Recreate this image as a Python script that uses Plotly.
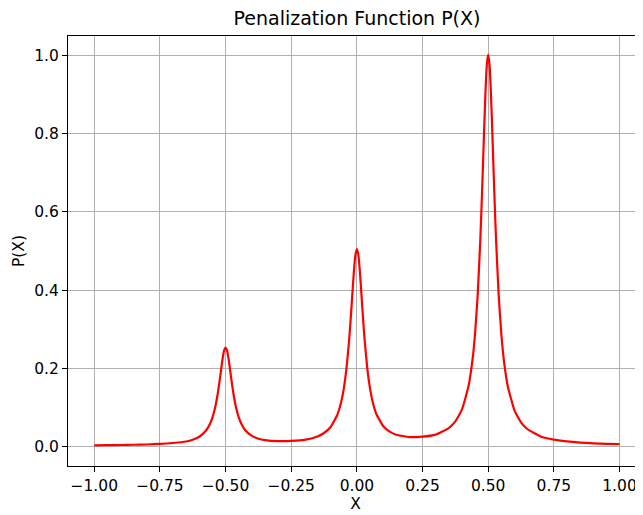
import plotly.graph_objects as go

# Values
x_vals = [-1.0, -0.95, -0.9, -0.85, -0.8, -0.75, -0.7, -0.65, -0.625, -0.6, -0.575, -0.56, -0.55,
          -0.54, -0.53, -0.525, -0.52, -0.515, -0.51, -0.505, -0.5, -0.495, -0.49, -0.485,
          -0.48, -0.475, -0.47, -0.46, -0.45, -0.44, -0.425, -0.4, -0.375, -0.35, -0.3, -0.25,
          -0.2, -0.15, -0.125, -0.1, -0.075, -0.06, -0.05, -0.04, -0.03, -0.025, -0.02, -0.015,
          -0.01, -0.005, 0.0, 0.005, 0.01, 0.015, 0.02, 0.025, 0.03, 0.04, 0.05, 0.06, 0.075,
          0.1, 0.125, 0.15, 0.2, 0.25, 0.3, 0.35, 0.375, 0.4, 0.425, 0.44, 0.45, 0.46, 0.47,
          0.475, 0.48, 0.485, 0.49, 0.495, 0.5, 0.505, 0.51, 0.515, 0.52, 0.525, 0.53, 0.54,
          0.55, 0.56, 0.575, 0.6, 0.625, 0.65, 0.7, 0.75, 0.8, 0.85, 0.9, 0.95, 1.0]
p_vals = [0.0030, 0.0033, 0.0037, 0.0043, 0.0050, 0.0065, 0.0088, 0.0126, 0.0171, 0.0249, 0.0401,
          0.0568, 0.0740, 0.0988, 0.1343, 0.1566, 0.1814, 0.2069, 0.2301, 0.2468, 0.2530,
          0.2469, 0.2304, 0.2075, 0.1818, 0.1571, 0.1349, 0.0996, 0.0750, 0.0581, 0.0416,
          0.0271, 0.0199, 0.0161, 0.0135, 0.0145, 0.0170, 0.0257, 0.0344, 0.0498, 0.0799,
          0.1132, 0.1474, 0.1969, 0.2678, 0.3124, 0.3619, 0.4130, 0.4594, 0.4927, 0.5050,
          0.4928, 0.4597, 0.4133, 0.3624, 0.3130, 0.2686, 0.1979, 0.1486, 0.1146, 0.0817,
          0.0524, 0.0378, 0.0300, 0.0240, 0.0250, 0.0303, 0.0470, 0.0641, 0.0943, 0.1539,
          0.2203, 0.2884, 0.3872, 0.5288, 0.6179, 0.7167, 0.8187, 0.9114, 0.9779, 1.0022,
          0.9778, 0.9112, 0.8184, 0.7164, 0.6174, 0.5283, 0.3865, 0.2876, 0.2192, 0.1526,
          0.0925, 0.0617, 0.0440, 0.0256, 0.0175, 0.0130, 0.0100, 0.0080, 0.0068, 0.0060]

x_ticks = [-1.0, -0.75, -0.5, -0.25, 0.0, 0.25, 0.5, 0.75, 1.0]
x_tick_labels = ["\u22121.00", "\u22120.75", "\u22120.50", "\u22120.25", "0.00", "0.25", "0.50", "0.75", "1.00"]
y_ticks = [0.0, 0.2, 0.4, 0.6, 0.8, 1.0]
y_tick_labels = ["0.0", "0.2", "0.4", "0.6", "0.8", "1.0"]

font_family = "DejaVu Sans"
W, H = 635, 515

fig = go.Figure()
fig.add_trace(go.Scatter(x=x_vals, y=p_vals, mode="lines",
                         line=dict(color="#ff0000", width=2.2, shape="spline", smoothing=0.4),
                         showlegend=False))

fig.update_layout(
    width=W, height=H,
    margin=dict(l=60, r=0, t=28, b=57, autoexpand=False),
    paper_bgcolor="white", plot_bgcolor="white",
    font=dict(family=font_family, size=15, color="#000000"),
    title=dict(text="Penalization Function P(X)", x=349 / W, xanchor="center",
               y=1 - 10 / H, yanchor="middle", xref="container", yref="container",
               font=dict(family=font_family, size=19, color="#000000")),
    xaxis=dict(range=[-1.1, 1.0895], tickvals=x_ticks, ticktext=x_tick_labels,
               showgrid=True, gridcolor="#b0b0b0", gridwidth=1,
               zeroline=False, showline=True, linecolor="#000000", linewidth=1, mirror=True,
               ticks="outside", ticklen=5, tickcolor="#000000", tickwidth=1,
               tickfont=dict(family=font_family, size=15.5),
               title=dict(text="X", font=dict(family=font_family, size=15.5), standoff=3)),
    yaxis=dict(range=[-0.05, 1.05], tickvals=y_ticks, ticktext=y_tick_labels,
               showgrid=True, gridcolor="#b0b0b0", gridwidth=1,
               zeroline=False, showline=True, linecolor="#000000", linewidth=1, mirror=False,
               ticks="outside", ticklen=5, tickcolor="#000000", tickwidth=1,
               tickfont=dict(family=font_family, size=15.5),
               title=dict(text="P(X)", font=dict(family=font_family, size=15.5), standoff=5)),
)

fig.write_html("out.html")
